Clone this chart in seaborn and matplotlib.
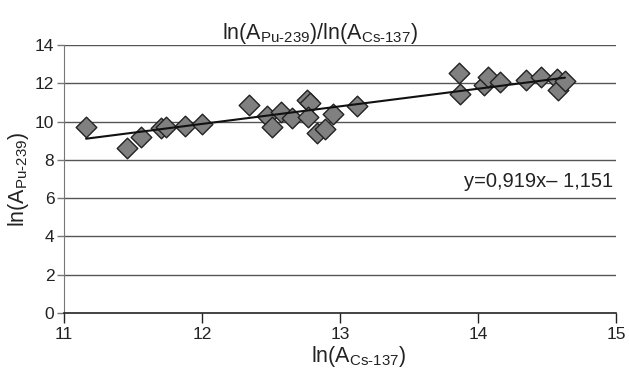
import numpy as np
import pandas as pd
import matplotlib
matplotlib.use("Agg")
import matplotlib.pyplot as plt
import seaborn as sns

ln_cs = [11.16, 11.46, 11.56, 11.70, 11.74, 11.88, 12.00, 12.34, 12.47, 12.51,
         12.57, 12.65, 12.76, 12.78, 12.77, 12.83, 12.89, 12.95, 13.12, 13.86,
         13.87, 14.04, 14.07, 14.16, 14.35, 14.46, 14.57, 14.58, 14.63]
ln_pu = [9.73, 8.60, 9.21, 9.65, 9.70, 9.79, 9.85, 10.87, 10.29, 9.70,
         10.48, 10.18, 11.15, 10.95, 10.22, 9.42, 9.60, 10.40, 10.82, 12.56,
         11.43, 11.89, 12.32, 12.05, 12.17, 12.35, 12.21, 11.65, 12.11]
fit_coef = [0.919, -1.151]
x_ticks = [11, 12, 13, 14, 15]
y_ticks = [0, 2, 4, 6, 8, 10, 12, 14]

df = pd.DataFrame({"cs": ln_cs, "pu": ln_pu})

sns.set_style("white")
plt.rcParams["font.family"] = ["Liberation Sans", "DejaVu Sans"]
plt.rcParams["mathtext.fontset"] = "custom"
plt.rcParams["mathtext.rm"] = "Liberation Sans"
plt.rcParams["mathtext.it"] = "Liberation Sans"
plt.rcParams["mathtext.bf"] = "Liberation Sans"

fig = plt.figure(figsize=(6.29, 3.72), dpi=100)
ax = fig.add_axes([64/629, 1 - 313/372, (616-64)/629, (313-45)/372])

for yv in y_ticks[1:]:
    ax.axhline(yv, color="#555555", lw=1.0, zorder=0)

sns.scatterplot(data=df, x="cs", y="pu", marker="D", s=110, color="#808080",
                edgecolor="#222222", linewidth=1.0, ax=ax, zorder=3, legend=False)

xl = np.array([min(ln_cs), max(ln_cs)])
ax.plot(xl, fit_coef[0] * xl + fit_coef[1], color="#111111", lw=1.5, zorder=4)

ax.set_xlim(11, 15)
ax.set_ylim(0, 14)
ax.set_xticks(x_ticks)
ax.set_yticks(y_ticks)
ax.tick_params(axis="both", labelsize=12.5, colors="#222222", width=1,
               direction="out", bottom=True, left=True)
ax.tick_params(axis="x", length=7, pad=3)
ax.tick_params(axis="y", length=5, pad=2, colors="#777777", labelcolor="#222222")
for s in ["top", "right"]:
    ax.spines[s].set_visible(False)
ax.spines["left"].set_color("#777777")
ax.spines["bottom"].set_color("#222222")
ax.spines["bottom"].set_linewidth(1.2)

ax.set_xlabel(r"ln(A$_{\text{Cs-137}}$)", fontsize=15.5, color="#222222")
ax.xaxis.set_label_coords(0.533, -0.115)
ax.set_ylabel(r"ln(A$_{\text{Pu-239}}$)", fontsize=15.5, color="#222222", labelpad=3)
ax.set_title(r"ln(A$_{\text{Pu-239}}$)/ln(A$_{\text{Cs-137}}$)", fontsize=15.5,
             color="#222222", pad=4, x=0.464)

ax.text(0.995, 6.85, "y=0,919x\u2013 1,151", transform=ax.get_yaxis_transform(),
        ha="right", va="center", fontsize=14.5, color="#222222")

fig.savefig("out.png", dpi=100)
